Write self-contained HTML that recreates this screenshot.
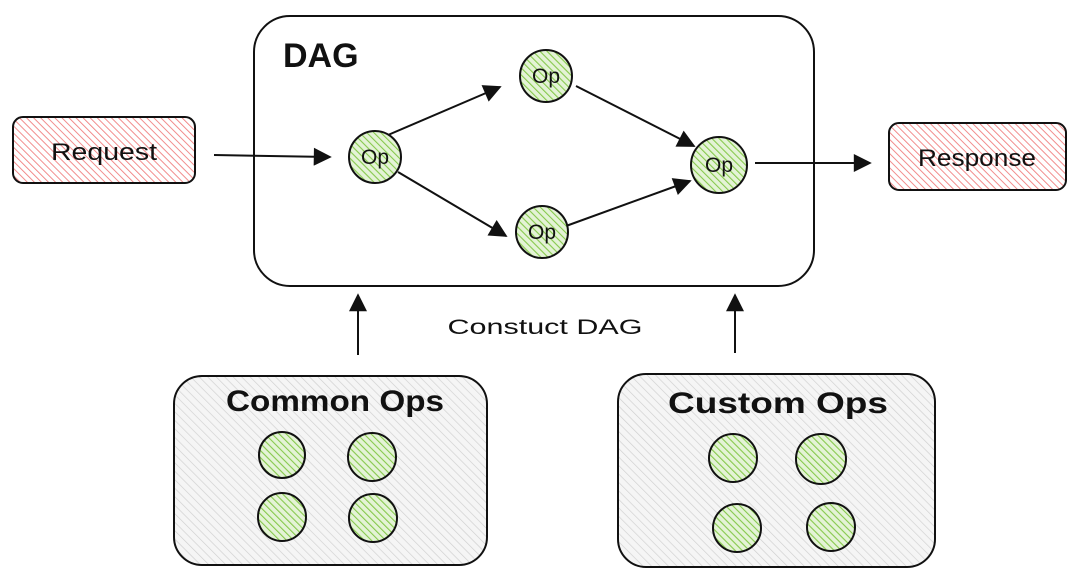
<!DOCTYPE html>
<html><head><meta charset="utf-8"><style>
html,body{margin:0;padding:0;background:#fff;}
svg{display:block;}
text{font-family:"Comic Sans MS","Liberation Sans",sans-serif;fill:#111;}
</style></head><body>
<svg width="1080" height="582" viewBox="0 0 1080 582" xmlns="http://www.w3.org/2000/svg">
<defs>
<pattern id="red" width="5" height="5" patternUnits="userSpaceOnUse" patternTransform="rotate(-45)">
<rect width="5" height="5" fill="#fff"/><line x1="0" y1="0" x2="0" y2="5" stroke="#f08080" stroke-width="1.8"/></pattern>
<pattern id="green" width="5" height="5" patternUnits="userSpaceOnUse" patternTransform="rotate(-45)">
<rect width="5" height="5" fill="#e4f3d6"/><line x1="0" y1="0" x2="0" y2="5" stroke="#86c94c" stroke-width="2.2"/></pattern>
<pattern id="grey" width="6" height="6" patternUnits="userSpaceOnUse" patternTransform="rotate(-45)">
<rect width="6" height="6" fill="#f5f5f5"/><line x1="0" y1="0" x2="0" y2="6" stroke="#cfcfcf" stroke-width="1.3"/></pattern>
<marker id="ah" viewBox="0 0 10 10" refX="9" refY="5" markerWidth="24" markerHeight="18" markerUnits="userSpaceOnUse" orient="auto">
<path d="M0,0 L10,5 L0,10 z" fill="#111"/></marker>
</defs>

<rect x="254" y="16" width="560" height="270" rx="36" fill="#fff" stroke="#111" stroke-width="2"/>
<text x="283" y="67" font-size="34" font-weight="bold">DAG</text>

<rect x="13" y="117" width="182" height="66" rx="10" fill="url(#red)" stroke="#111" stroke-width="2"/>
<text x="104" y="160" font-size="24" text-anchor="middle" textLength="106" lengthAdjust="spacingAndGlyphs">Request</text>

<rect x="889" y="123" width="177" height="67" rx="10" fill="url(#red)" stroke="#111" stroke-width="2"/>
<text x="977" y="166" font-size="24" text-anchor="middle" textLength="118" lengthAdjust="spacingAndGlyphs">Response</text>

<g stroke="#111" stroke-width="2" fill="none" marker-end="url(#ah)">
<line x1="214" y1="155" x2="330" y2="157"/>
<line x1="388" y1="135" x2="500" y2="87"/>
<line x1="398" y1="172" x2="506" y2="236"/>
<line x1="576" y1="86" x2="694" y2="146"/>
<line x1="566" y1="226" x2="690" y2="181"/>
<line x1="755" y1="163" x2="870" y2="163"/>
<line x1="358" y1="355" x2="358" y2="295"/>
<line x1="735" y1="353" x2="735" y2="295"/>
</g>

<g stroke="#111" stroke-width="2" fill="url(#green)">
<circle cx="375" cy="157" r="26"/>
<circle cx="546" cy="76" r="26"/>
<circle cx="542" cy="232" r="26"/>
<circle cx="719" cy="165" r="28"/>
</g>
<g font-size="21" text-anchor="middle">
<text x="375" y="164">Op</text>
<text x="546" y="83">Op</text>
<text x="542" y="239">Op</text>
<text x="719" y="172">Op</text>
</g>

<text x="545" y="334" font-size="21" text-anchor="middle" textLength="195" lengthAdjust="spacingAndGlyphs">Constuct DAG</text>

<rect x="174" y="376" width="313" height="189" rx="28" fill="url(#grey)" stroke="#111" stroke-width="2"/>
<text x="335" y="411" font-size="30" font-weight="bold" text-anchor="middle" textLength="218" lengthAdjust="spacingAndGlyphs">Common Ops</text>
<g stroke="#111" stroke-width="2" fill="url(#green)">
<circle cx="282" cy="455" r="23"/>
<circle cx="372" cy="457" r="24"/>
<circle cx="282" cy="517" r="24"/>
<circle cx="373" cy="518" r="24"/>
</g>

<rect x="618" y="374" width="317" height="193" rx="28" fill="url(#grey)" stroke="#111" stroke-width="2"/>
<text x="778" y="413" font-size="30" font-weight="bold" text-anchor="middle" textLength="220" lengthAdjust="spacingAndGlyphs">Custom Ops</text>
<g stroke="#111" stroke-width="2" fill="url(#green)">
<circle cx="733" cy="458" r="24"/>
<circle cx="821" cy="459" r="25"/>
<circle cx="737" cy="528" r="24"/>
<circle cx="831" cy="527" r="24"/>
</g>
</svg>
</body></html>
